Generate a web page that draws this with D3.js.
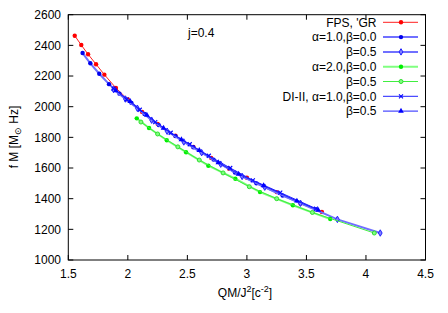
<!DOCTYPE html>
<html><head><meta charset="utf-8">
<script src="https://cdn.jsdelivr.net/npm/d3@7"></script>
<style>body{margin:0;background:#fff}svg{display:block}text{font-family:"Liberation Sans",Arial,sans-serif;fill:#000}</style>
</head><body>
<script>
// ---- data ----
const xTicks = [1.5, 2, 2.5, 3, 3.5, 4, 4.5];
const yTicks = [1000, 1200, 1400, 1600, 1800, 2000, 2200, 2400, 2600];
const seriesNames = ["FPS, 'GR", "α=1.0,β=0.0", "β=0.5", "α=2.0,β=0.0", "β=0.5", "DI-II, α=1.0,β=0.0", "β=0.5"];
const fpsGR = [[1.554,2463],[1.609,2402],[1.666,2342],[1.733,2277],[1.803,2209],[1.90,2122],[2.0,2047],[2.12,1966],[2.25,1888],[2.40,1810],[2.55,1738],[2.70,1666],[2.85,1596],[3.0,1536],[3.25,1443],[3.45,1368],[3.63,1313]];
const a1b0 = [[1.62,2350],[1.685,2283],[1.76,2215],[1.842,2147],[1.93,2085],[2.03,2025],[2.14,1952],[2.26,1880],[2.40,1808],[2.55,1735],[2.72,1655],[2.90,1570],[3.08,1500],[3.30,1420],[3.58,1330]];
const a1b5 = [[1.88,2112],[1.98,2050],[2.08,1990],[2.20,1912],[2.33,1840],[2.47,1770],[2.62,1700],[2.78,1625],[2.96,1545],[3.15,1475],[3.45,1370],[3.76,1265],[4.12,1176]];
const a2b0 = [[2.075,1924],[2.178,1861],[2.327,1781],[2.489,1703],[2.676,1615],[2.903,1530],[3.11,1443],[3.386,1357],[3.70,1267]];
const a2b5 = [[2.11,1900],[2.25,1822],[2.42,1738],[2.60,1652],[2.80,1568],[3.02,1478],[3.25,1400],[3.55,1310],[4.07,1176]];
const di0 = [[1.88,2118],[1.99,2048],[2.10,1980],[2.23,1900],[2.36,1830],[2.52,1755],[2.68,1680],[2.86,1600],[3.05,1520],[3.28,1440],[3.58,1335]];
const di5 = [[1.90,2105],[2.02,2035],[2.16,1945],[2.30,1860],[2.45,1785],[2.60,1715],[2.76,1635],[2.93,1560],[3.14,1485],[3.42,1385],[3.60,1325]];

const W = 448, H = 313;
const m = {l:68.3, r:425.5, t:14.7, b:260};
const svg = d3.select("body").append("svg").attr("width",W).attr("height",H);
const x = d3.scaleLinear().domain([1.5,4.5]).range([m.l,m.r]);
const y = d3.scaleLinear().domain([1000,2600]).range([m.b,m.t]);

const styles = [
  {data:fpsGR, line:"#ff2020", lw:1, mk:"circle", col:"#ff0000"},
  {data:a1b0, line:"#7070ff", lw:2, mk:"circle", col:"#0000ee"},
  {data:a1b5, line:"#7070ff", lw:2, mk:"diamond", col:"#2020ff"},
  {data:a2b0, line:"#80ff80", lw:2, mk:"circle", col:"#00ee00"},
  {data:a2b5, line:"#40ee40", lw:1, mk:"ocircle", col:"#30dd30"},
  {data:di0, line:"#2020ff", lw:1, mk:"x", col:"#0000ff"},
  {data:di5, line:"#2020ff", lw:1, mk:"tri", col:"#0000ff"}
];

const g = svg.append("g");
function marker(sel, s, px, py){
  if(s.mk==="circle") sel.append("circle").attr("cx",px).attr("cy",py).attr("r",2.2).attr("fill",s.col);
  else if(s.mk==="ocircle") sel.append("circle").attr("cx",px).attr("cy",py).attr("r",2).attr("fill","#80ff80").attr("stroke",s.col).attr("stroke-width",1);
  else if(s.mk==="diamond") sel.append("path").attr("d",d3.symbol(d3.symbolDiamond,12)()).attr("transform",`translate(${px},${py})`).attr("fill","#8080ff").attr("stroke",s.col).attr("stroke-width",1);
  else if(s.mk==="x") sel.append("path").attr("d",`M${px-2},${py-2}L${px+2},${py+2}M${px-2},${py+2}L${px+2},${py-2}`).attr("stroke",s.col).attr("stroke-width",1.1);
  else if(s.mk==="tri") sel.append("path").attr("d",d3.symbol(d3.symbolTriangle,14)()).attr("transform",`translate(${px},${py})`).attr("fill",s.col);
}
const line = d3.line().x(d=>x(d[0])).y(d=>y(d[1]));
styles.forEach(s=>{
  g.append("path").datum(s.data).attr("d",line).attr("fill","none").attr("stroke",s.line).attr("stroke-width",s.lw);
  s.data.forEach(d=>marker(g,s,x(d[0]),y(d[1])));
});

// frame and ticks
const ax = svg.append("g").attr("stroke","#000").attr("stroke-width",1);
ax.append("rect").attr("x",m.l).attr("y",m.t).attr("width",m.r-m.l).attr("height",m.b-m.t).attr("fill","none");
xTicks.forEach(t=>{
  ax.append("line").attr("x1",x(t)).attr("x2",x(t)).attr("y1",m.b).attr("y2",m.b-5);
  ax.append("line").attr("x1",x(t)).attr("x2",x(t)).attr("y1",m.t).attr("y2",m.t+5);
  svg.append("text").attr("x",x(t)).attr("y",278).attr("text-anchor","middle").attr("font-size",12).text(t);
});
yTicks.forEach(t=>{
  ax.append("line").attr("x1",m.l).attr("x2",m.l+5).attr("y1",y(t)).attr("y2",y(t));
  ax.append("line").attr("x1",m.r).attr("x2",m.r-5).attr("y1",y(t)).attr("y2",y(t));
  svg.append("text").attr("x",61).attr("y",y(t)+4.3).attr("text-anchor","end").attr("font-size",12).text(t);
});

// labels
const xl = svg.append("text").attr("x",245).attr("y",297).attr("text-anchor","middle").attr("font-size",12);
xl.append("tspan").text("QM/J");
xl.append("tspan").attr("font-size",9).attr("dy",-5).text("2");
xl.append("tspan").attr("dy",5).text("[c");
xl.append("tspan").attr("font-size",9).attr("dy",-5).text("-2");
xl.append("tspan").attr("dy",5).text("]");
const yl = svg.append("text").attr("transform","translate(18,137) rotate(-90)").attr("text-anchor","middle").attr("font-size",12);
yl.append("tspan").text("f M [M");
yl.append("tspan").attr("font-size",9).attr("dy",3).text("⊙");
yl.append("tspan").attr("dy",-3).text(" Hz]");
svg.append("text").attr("x",188).attr("y",37).attr("font-size",12).text("j=0.4");

// legend
styles.forEach((s,i)=>{
  const ly = 22.3 + i*14.8;
  svg.append("text").attr("x",376.5).attr("y",ly+4.3).attr("text-anchor","end").attr("font-size",12).text(seriesNames[i]);
  svg.append("line").attr("x1",383).attr("x2",418).attr("y1",ly).attr("y2",ly).attr("stroke",s.line).attr("stroke-width",s.lw);
  marker(svg,s,401,ly);
});
</script>
</body></html>
